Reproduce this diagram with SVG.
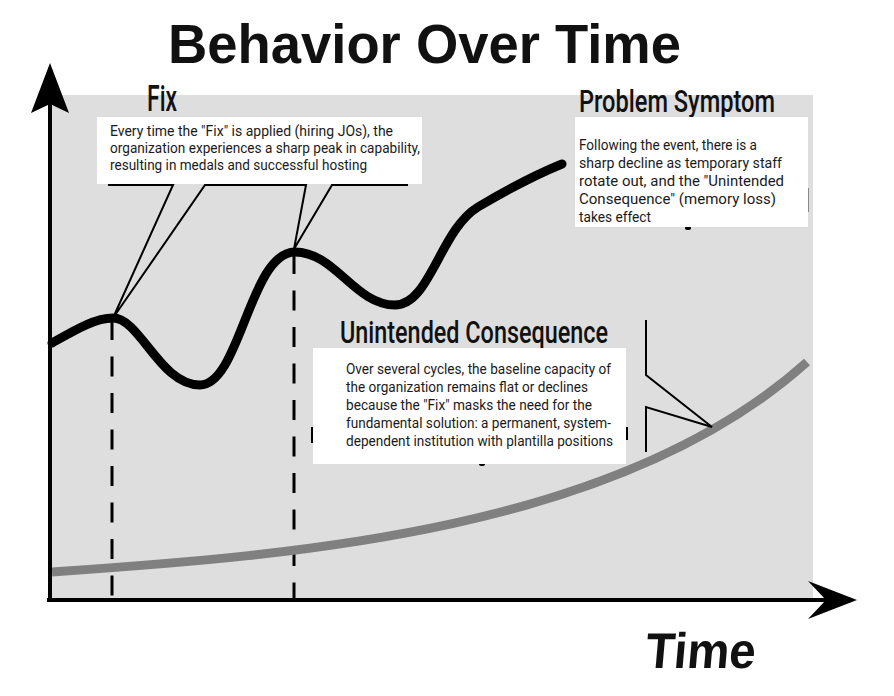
<svg xmlns="http://www.w3.org/2000/svg" width="894" height="696" viewBox="0 0 894 696">
<style>
.title{font-family:"Liberation Sans",Arial,sans-serif;font-weight:bold;fill:#111}
.head{font-family:Roboto,"Liberation Sans",sans-serif;font-weight:500;fill:#111}
.body{font-family:Roboto,"Liberation Sans",sans-serif;font-size:15px;fill:#1a1a1a}
.box{fill:#ffffff}
.thin{fill:none;stroke:#000;stroke-width:2;stroke-linejoin:miter}
.dash{fill:none;stroke:#000;stroke-width:3;stroke-dasharray:20 16.5}
</style>
<rect width="894" height="696" fill="#ffffff"/>
<g id="panel">
<rect x="50" y="95" width="763" height="505" fill="#dedede"/>
</g>
<g id="title">
<text class="title" x="168" y="63" font-size="56" textLength="513" lengthAdjust="spacingAndGlyphs">Behavior Over Time</text>
</g>
<g id="connectors">
<path class="dash" d="M112,320 V600"/>
<path class="dash" d="M294,254 V600"/>
<path d="M52,572 C300,555 620,530 807,362" fill="none" stroke="#808080" stroke-width="9"/>
<path d="M52,343 C75,330 95,318 113,318 C140,318 160,385 200,385 C240,385 250,252 295,252 C335,252 355,305 395,305 C430,305 440,230 478,207 C510,188 535,175 562,164" fill="none" stroke="#000" stroke-width="9" stroke-linecap="round"/>
<path class="thin" d="M108,185 H173 L113,318 L205,185 H306 L294,249 L332,185 H408"/>
<path class="thin" d="M646,320 V375 L712,427 L646,407 V452"/>
<g fill="#000">
<ellipse cx="688" cy="228" rx="3" ry="2"/>
<ellipse cx="482" cy="464" rx="3" ry="2"/>
<rect x="311" y="427" width="2" height="16"/>
<rect x="626" y="427" width="2" height="13"/>
</g>
<rect x="807" y="188" width="2" height="24" fill="#888"/>
</g>
<g id="axes">
<path d="M50,100 V602" stroke="#000" stroke-width="4"/>
<path d="M47,600 H830" stroke="#000" stroke-width="4"/>
<polygon points="50,63 69,113 50,104 31,113" fill="#000"/>
<polygon points="857,600 808,581 826,600 808,619" fill="#000"/>
<text x="645" y="668" font-family="'Liberation Sans',Arial,sans-serif" font-weight="bold" font-size="50" textLength="110" lengthAdjust="spacingAndGlyphs" fill="#111" transform="translate(58,0) skewX(-5)">Time</text>
</g>
<g id="node-fix">
<text class="head" x="147" y="111" font-size="36" textLength="30" lengthAdjust="spacingAndGlyphs">Fix</text>
<rect class="box" x="97" y="117" width="325" height="67"/>
<text class="body" x="110" y="136" textLength="283" lengthAdjust="spacingAndGlyphs">Every time the "Fix" is applied (hiring JOs), the</text>
<text class="body" x="110" y="153" textLength="310" lengthAdjust="spacingAndGlyphs">organization experiences a sharp peak in capability,</text>
<text class="body" x="110" y="170" textLength="257" lengthAdjust="spacingAndGlyphs">resulting in medals and successful hosting</text>
</g>
<g id="node-problem">
<text class="head" x="579" y="112" font-size="31" textLength="196" lengthAdjust="spacingAndGlyphs">Problem Symptom</text>
<rect class="box" x="575" y="117" width="233" height="110"/>
<text class="body" x="579" y="150" textLength="178" lengthAdjust="spacingAndGlyphs">Following the event, there is a</text>
<text class="body" x="579" y="168" textLength="203" lengthAdjust="spacingAndGlyphs">sharp decline as temporary staff</text>
<text class="body" x="579" y="186" textLength="205" lengthAdjust="spacingAndGlyphs">rotate out, and the "Unintended</text>
<text class="body" x="579" y="204" textLength="197" lengthAdjust="spacingAndGlyphs">Consequence" (memory loss)</text>
<text class="body" x="579" y="222" textLength="72" lengthAdjust="spacingAndGlyphs">takes effect</text>
</g>
<g id="node-unintended">
<text class="head" x="340" y="343" font-size="31" textLength="268" lengthAdjust="spacingAndGlyphs">Unintended Consequence</text>
<rect class="box" x="313" y="348" width="313" height="116"/>
<text class="body" x="346" y="374" textLength="265" lengthAdjust="spacingAndGlyphs">Over several cycles, the baseline capacity of</text>
<text class="body" x="346" y="392" textLength="242" lengthAdjust="spacingAndGlyphs">the organization remains flat or declines</text>
<text class="body" x="346" y="410" textLength="246" lengthAdjust="spacingAndGlyphs">because the "Fix" masks the need for the</text>
<text class="body" x="346" y="428" textLength="265" lengthAdjust="spacingAndGlyphs">fundamental solution: a permanent, system-</text>
<text class="body" x="346" y="446" textLength="267" lengthAdjust="spacingAndGlyphs">dependent institution with plantilla positions</text>
</g>
</svg>
